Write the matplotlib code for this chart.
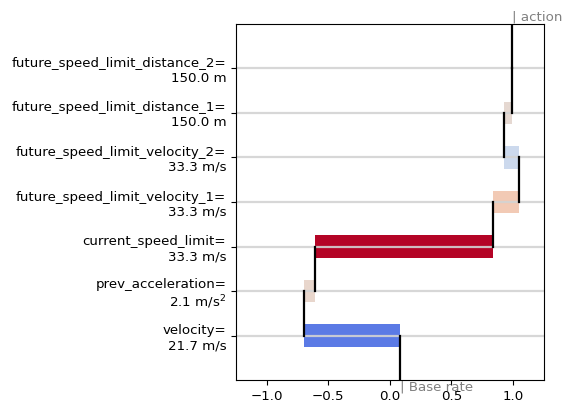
import matplotlib
matplotlib.use("Agg")
import matplotlib.pyplot as plt
import numpy as np

features = ["velocity=\n21.7 m/s",
            "prev_acceleration=\n2.1 m/s$^2$",
            "current_speed_limit=\n33.3 m/s",
            "future_speed_limit_velocity_1=\n33.3 m/s",
            "future_speed_limit_velocity_2=\n33.3 m/s",
            "future_speed_limit_distance_1=\n150.0 m",
            "future_speed_limit_distance_2=\n150.0 m"]
contributions = [-0.785, 0.09, 1.445, 0.21, -0.12, 0.07, 0.0]
base_rate = 0.085

fig, ax = plt.subplots(figsize=(5.67, 4.04), dpi=100)
fig.subplots_adjust(left=0.416, right=0.959, top=0.941, bottom=0.059)

cmap = plt.get_cmap("coolwarm")
norm = plt.Normalize(-1, 1)

n = len(features)
rows = np.arange(n)
cum = base_rate + np.cumsum(contributions)
starts = np.concatenate([[base_rate], cum[:-1]])

for r in rows:
    ax.axhline(r, color="lightgray", lw=1.6, alpha=0.9, zorder=2)

ax.barh(rows, cum - starts, left=starts, height=0.5,
        color=cmap(norm(np.array(contributions))), zorder=1)

# connecting lines
ax.plot([base_rate, base_rate], [-1, 0], color="black", lw=1.6, zorder=3)
for r in rows:
    ax.plot([cum[r], cum[r]], [r, r + 1], color="black", lw=1.6, zorder=3)

ax.set_xlim(-1.25, 1.25)
ax.set_ylim(-1, n)
ax.set_yticks(rows)
ax.set_yticklabels(features, fontsize=9.6)
ax.set_xticks([-1.0, -0.5, 0.0, 0.5, 1.0])
ax.tick_params(axis="x", labelsize=9.6)

ax.text(cum[-1], n, "| action", color="gray", fontsize=9.6,
        ha="left", va="bottom", clip_on=False)
ax.text(base_rate, -1, "| Base rate", color="gray", fontsize=9.6,
        ha="left", va="top", clip_on=False)

fig.savefig("out.png", dpi=100)
